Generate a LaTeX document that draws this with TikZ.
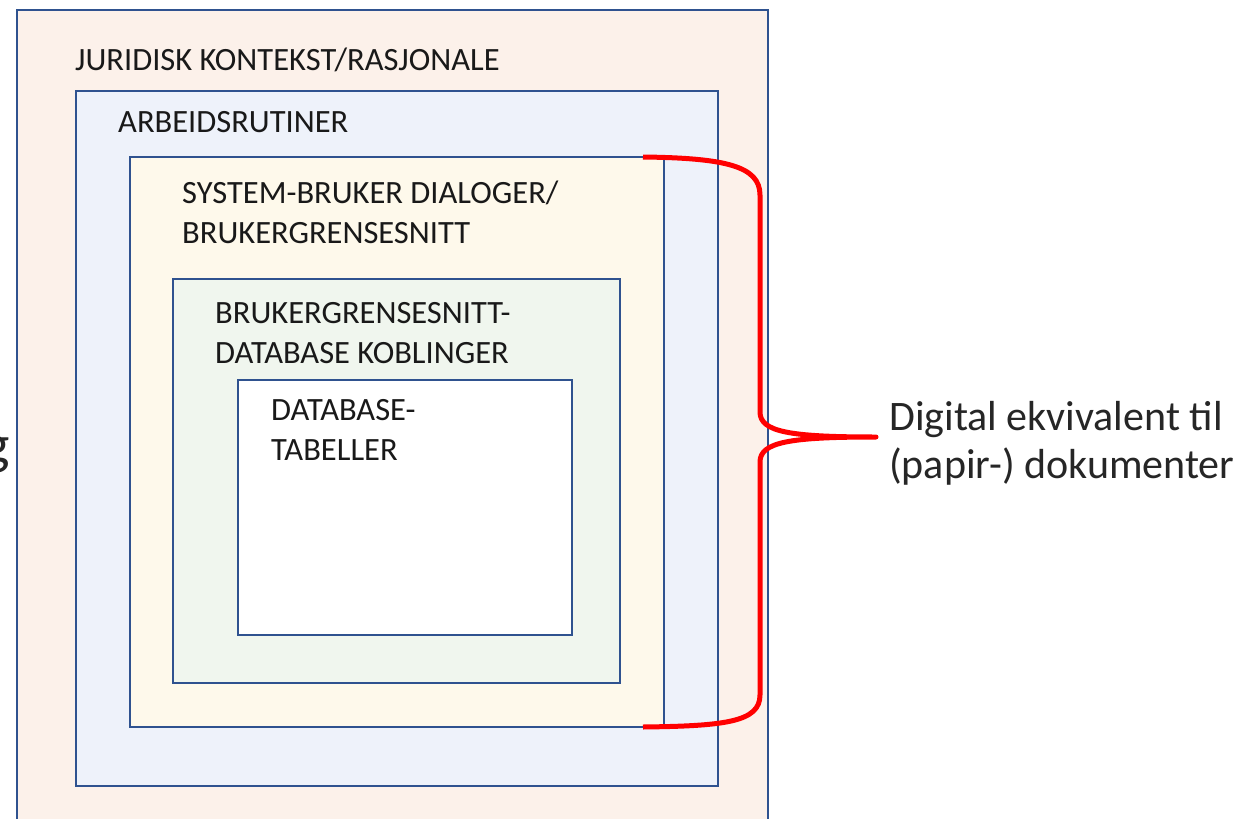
\documentclass[tikz,border=0pt]{standalone}
\usepackage{fontspec}
\setmainfont{Carlito}
\begin{document}
\begin{tikzpicture}[x=1pt,y=-1pt,
  frame/.style={draw=framecol, line width=1.6pt},
  layer/.style={font=\fontsize{32.5}{40}\selectfont, anchor=base west, align=left, inner sep=0pt, text=black!90},
  note/.style={font=\fontsize{42}{48}\selectfont, anchor=base west, align=left, inner sep=0pt, text=black!85},
  brace/.style={draw=red, line width=5pt, line cap=butt, line join=round}
]
\definecolor{framecol}{HTML}{2F528F}
\definecolor{fillA}{HTML}{FCF1EA}
\definecolor{fillB}{HTML}{EEF2FA}
\definecolor{fillC}{HTML}{FEF9EB}
\definecolor{fillD}{HTML}{F0F6EE}
\useasboundingbox (0,0) rectangle (1243,819);
\clip (0,0) rectangle (1243,819);
\fill[white] (0,0) rectangle (1243,819);

% nested layers, outermost first
\filldraw[frame, fill=fillA, line width=2pt] (17,10) rectangle (768,840);
\filldraw[frame, fill=fillB] (76,91) rectangle (718,786);
\filldraw[frame, fill=fillC] (130,157) rectangle (664,727);
\filldraw[frame, fill=fillD] (173,279) rectangle (620,683);
\filldraw[frame, fill=white] (238,380) rectangle (572,635);

% labels (multi-line nodes sit on the baseline of their last line)
\node[layer] (jur) at (75,70) {JURIDISK KONTEKST/RASJONALE};
\node[layer] (arb) at (118,132) {ARBEIDSRUTINER};
\node[layer] (sys) at (182,243) {SYSTEM-BRUKER DIALOGER/\\BRUKERGRENSESNITT};
\node[layer] (kob) at (215,363) {BRUKERGRENSESNITT-\\DATABASE KOBLINGER};
\node[layer] (tab) at (271,460) {DATABASE-\\TABELLER};

% cut-off letter at the left edge
\node[font=\fontsize{56}{60}\selectfont, anchor=base east, inner sep=0pt, text=black!85] (gl) at (10,463) {g};

% brace spanning the digital layers
\coordinate (btop) at (643,157);
\coordinate (bbot) at (643,727);
\coordinate (tip) at (876,437);
\draw[brace] (btop) .. controls (725,158) and (760,166) .. (760,195)
  -- (760,412) .. controls (760,432) and (790,437) .. (tip)
  .. controls (790,437) and (760,442) .. (760,462)
  -- (760,695) .. controls (760,722) and (725,726) .. (bbot);

\node[note] (dig) at (889,478) {Digital ekvivalent til\\(papir-) dokumenter};
\end{tikzpicture}
\end{document}
